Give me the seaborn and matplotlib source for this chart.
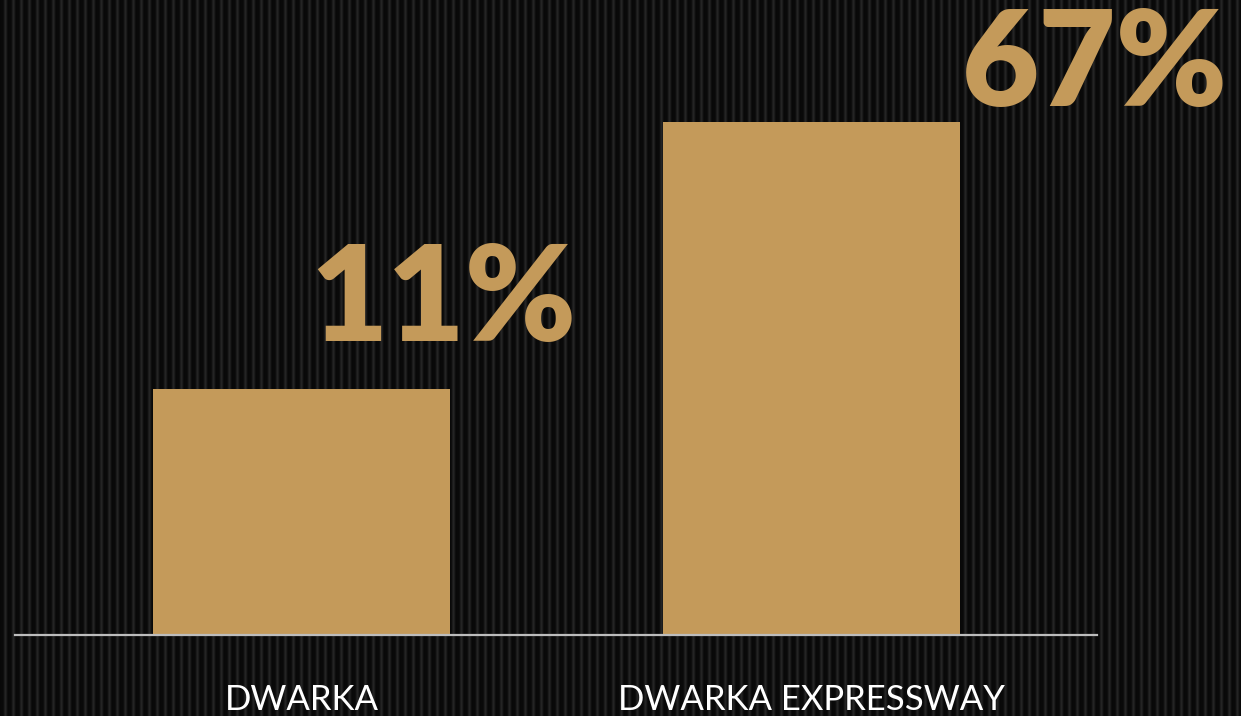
import matplotlib.pyplot as plt
import numpy as np
import pandas as pd
import seaborn as sns

# categories and the printed percentages
regions = ['DWARKA', 'DWARKA EXPRESSWAY']
growth_pct = [11, 67]
# bar heights as drawn (relative - not proportional to the %)
bar_height = [0.48, 1.0]

gold = '#C49A5A'

df = pd.DataFrame({'region': regions, 'height': bar_height, 'pct': growth_pct})

sns.set_theme(style='white')
plt.rcParams['font.family'] = ['Lato', 'DejaVu Sans']

fig = plt.figure(figsize=(12.41, 7.16), dpi=100)
fig.patch.set_facecolor('#0b0b0b')

# striped backdrop
bg = fig.add_axes([0, 0, 1, 1], zorder=0)
cols = np.arange(1241) % 8
stripe = 0.035 + 0.11 * np.exp(-((cols - 5) ** 2) / 2.5)
bg.imshow(np.tile(stripe, (4, 1)), cmap='gray', vmin=0, vmax=1,
          aspect='auto', extent=[0, 1, 0, 1], interpolation='nearest')
bg.axis('off')

ax = fig.add_axes([15 / 1241, 81 / 716, 1082 / 1241, 635 / 716], zorder=1)
ax.patch.set_alpha(0)

sns.barplot(data=df, x='region', y='height', color=gold, saturation=1,
            width=0.582, linewidth=0, ax=ax)

ax.set_xlim(-0.5618, 1.5598)
ax.set_ylim(0, 635 / 513)
ax.set_xlabel('')
ax.set_ylabel('')
ax.set_yticks([])
for s in ['top', 'right', 'left']:
    ax.spines[s].set_visible(False)
ax.spines['bottom'].set_color('#bdbdbd')
ax.spines['bottom'].set_linewidth(1.6)
ax.tick_params(axis='x', length=0, pad=35, labelcolor='white', labelsize=25)
for lab in ax.get_xticklabels():
    lab.set_fontweight('normal')

# big percentage labels
offsets = [(-140, 48), (2, 16)]
for i, (h, p) in enumerate(zip(bar_height, growth_pct)):
    ax.annotate(f'{p}%', xy=(i + 0.291, h), xytext=offsets[i],
                textcoords='offset pixels', ha='left', va='baseline',
                fontsize=96, fontweight='heavy', color=gold,
                annotation_clip=False)

fig.savefig('out.png', dpi=100, facecolor=fig.get_facecolor())
